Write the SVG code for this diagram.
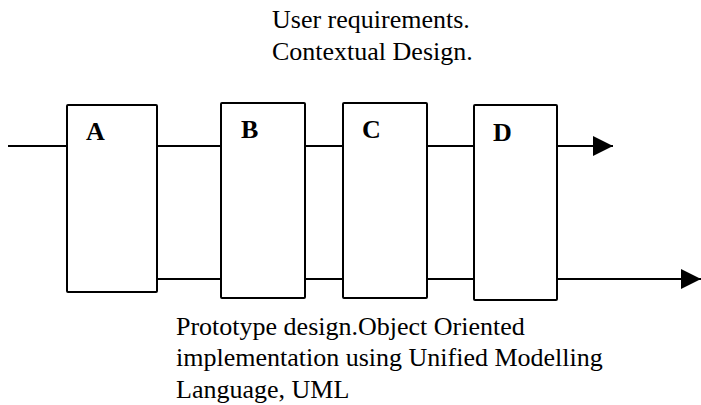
<svg xmlns="http://www.w3.org/2000/svg" width="701" height="405" viewBox="0 0 701 405">
  <style>
    .box { fill: #ffffff; stroke: #000000; stroke-width: 2; }
    .line { stroke: #000000; stroke-width: 2; fill: none; }
    .lbl { font-family: "Liberation Serif", "Times New Roman", serif; font-weight: bold; font-size: 26px; fill: #000000; }
    .txt { font-family: "Liberation Serif", "Times New Roman", serif; font-size: 26px; fill: #000000; }
  </style>
  <defs>
    <marker id="arrow" markerUnits="userSpaceOnUse" markerWidth="20" markerHeight="20" refX="20" refY="10" orient="auto">
      <path d="M0,0 L20,10 L0,20 Z" fill="#000000"/>
    </marker>
  </defs>

  <rect width="701" height="405" fill="#ffffff"/>

  <g id="connectors">
    <line class="line" x1="8" y1="146" x2="67" y2="146"/>
    <line class="line" x1="157" y1="146" x2="221" y2="146"/>
    <line class="line" x1="305" y1="146" x2="343" y2="146"/>
    <line class="line" x1="427" y1="146" x2="474" y2="146"/>
    <line class="line" x1="557" y1="146" x2="613" y2="146" marker-end="url(#arrow)"/>
    <line class="line" x1="157" y1="279" x2="221" y2="279"/>
    <line class="line" x1="305" y1="279" x2="343" y2="279"/>
    <line class="line" x1="427" y1="279" x2="474" y2="279"/>
    <line class="line" x1="557" y1="279" x2="701" y2="279" marker-end="url(#arrow)"/>
  </g>

  <g id="node-a">
    <rect class="box" x="67" y="105" width="90" height="187" rx="1"/>
    <text class="lbl" x="86" y="140">A</text>
  </g>
  <g id="node-b">
    <rect class="box" x="221" y="103" width="84" height="195" rx="1"/>
    <text class="lbl" x="241" y="138">B</text>
  </g>
  <g id="node-c">
    <rect class="box" x="343" y="103" width="84" height="195" rx="1"/>
    <text class="lbl" x="362" y="138">C</text>
  </g>
  <g id="node-d">
    <rect class="box" x="474" y="105" width="83" height="195" rx="1"/>
    <text class="lbl" x="493" y="141">D</text>
  </g>

  <g id="note-top">
    <text class="txt" x="272" y="28">User requirements.</text>
    <text class="txt" x="272" y="60">Contextual Design.</text>
  </g>
  <g id="note-bottom">
    <text class="txt" x="176" y="335">Prototype design.Object Oriented</text>
    <text class="txt" x="176" y="366">implementation using Unified Modelling</text>
    <text class="txt" x="176" y="398">Language, UML</text>
  </g>
</svg>
